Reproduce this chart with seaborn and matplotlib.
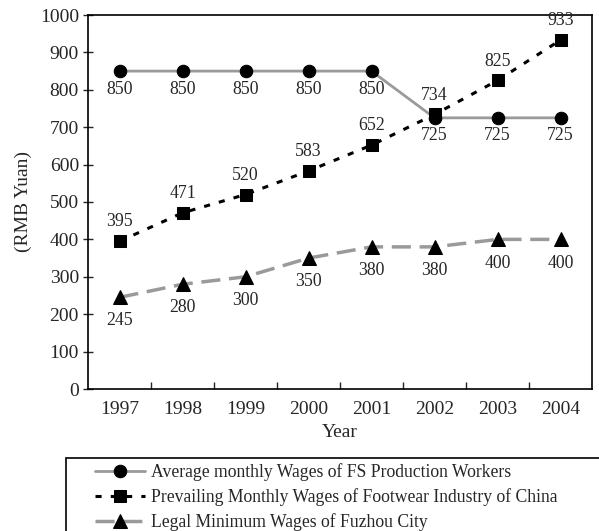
import numpy as np
import pandas as pd
import matplotlib
matplotlib.use("Agg")
import matplotlib.pyplot as plt
from matplotlib.patches import Rectangle
import seaborn as sns

# data
years = ["1997", "1998", "1999", "2000", "2001", "2002", "2003", "2004"]
fs_wages = [850, 850, 850, 850, 850, 725, 725, 725]
industry_wages = [395, 471, 520, 583, 652, 734, 825, 933]
min_wages = [245, 280, 300, 350, 380, 380, 400, 400]

labels = [
    "Average monthly Wages of FS Production Workers",
    "Prevailing Monthly Wages of Footwear Industry of China",
    "Legal Minimum Wages of Fuzhou City",
]

sns.set_style("ticks")
plt.rcParams["font.family"] = ["Liberation Serif", "DejaVu Serif"]
plt.rcParams["font.size"] = 13

df = pd.DataFrame({
    "pos": np.arange(len(years)),
    "fs": fs_wages,
    "industry": industry_wages,
    "minimum": min_wages,
})

fig = plt.figure(figsize=(5.99, 5.31), dpi=100)
ax = fig.add_axes([88 / 599, 1 - 389 / 531, (592 - 88) / 599, (389 - 15) / 531])

gray = "#9a9a9a"
sns.lineplot(data=df, x="pos", y="fs", ax=ax, color=gray, linewidth=2,
             marker="o", markersize=9, markerfacecolor="black",
             markeredgecolor="black", label=labels[0])
sns.lineplot(data=df, x="pos", y="industry", ax=ax, color="black", linewidth=2.2,
             linestyle=(0, (2, 3)), marker="s", markersize=9,
             markerfacecolor="black", markeredgecolor="black", label=labels[1])
sns.lineplot(data=df, x="pos", y="minimum", ax=ax, color=gray, linewidth=2.5,
             linestyle=(0, (5.5, 2.5)), marker="^", markersize=10,
             markerfacecolor="black", markeredgecolor="black", label=labels[2])

# value labels
for i in range(len(years)):
    ax.annotate(str(fs_wages[i]), (i, fs_wages[i]), xytext=(0, -13),
                textcoords="offset points", ha="center", va="center", fontsize=12.8)
    ax.annotate(str(industry_wages[i]), (i, industry_wages[i]), xytext=(0, 14),
                textcoords="offset points", ha="center", va="center", fontsize=12.8)
    ax.annotate(str(min_wages[i]), (i, min_wages[i]), xytext=(0, -17),
                textcoords="offset points", ha="center", va="center", fontsize=12.8)

ax.set_xlim(-0.5, len(years) - 0.5)
ax.set_ylim(0, 1000)
ax.set_yticks(range(0, 1001, 100))
ax.set_xticks(np.arange(len(years)))
ax.set_xticklabels(years)
ax.set_xticks(np.arange(0.5, len(years) - 1, 1), minor=True)
ax.tick_params(axis="x", which="major", length=0, pad=9, labelsize=14)
ax.tick_params(axis="x", which="minor", direction="in", length=5, width=1)
ax.tick_params(axis="y", direction="inout", length=7, width=1, pad=3, labelsize=14)

for s in ax.spines.values():
    s.set_visible(True)
    s.set_color("black")
    s.set_linewidth(1.2)

ax.set_xlabel("Year", fontsize=14, labelpad=4)
ax.set_ylabel("(RMB Yuan)", fontsize=14, labelpad=6)
ax.grid(False)

handles, lbls = ax.get_legend_handles_labels()
ax.get_legend().remove()

# legend box runs off the right and bottom edges as in the reference
fig.patches.append(Rectangle((66 / 599, -0.05), 540 / 599, (531 - 458) / 531 + 0.05,
                             transform=fig.transFigure, fill=False,
                             edgecolor="black", linewidth=1.2))
leg = fig.legend(handles, lbls, loc="upper left",
                 bbox_to_anchor=(95 / 599, 1 - 463 / 531),
                 frameon=False, fontsize=12.7, handlelength=2.85,
                 handletextpad=0.35, labelspacing=0.4, borderpad=0,
                 borderaxespad=0)

fig.savefig("out.png", dpi=100)
